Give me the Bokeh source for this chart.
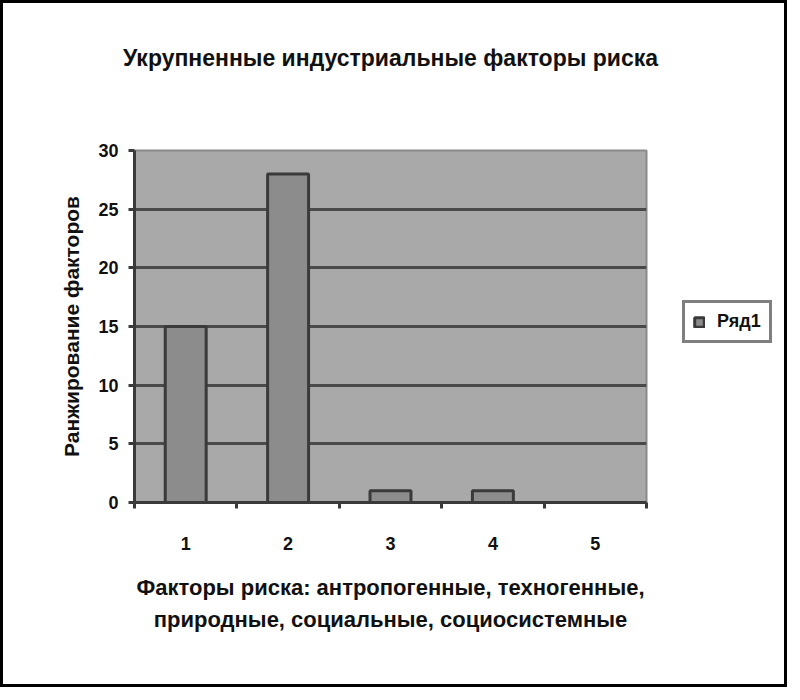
from bokeh.plotting import figure
from bokeh.layouts import row
from bokeh.models import (FixedTicker, Legend, LegendItem, Title, LinearAxis,
                          ColumnDataSource, Range1d)
from bokeh.embed import file_html
from bokeh.resources import INLINE

# ---- data ----
title_text = "Укрупненные индустриальные факторы риска"
y_label = "Ранжирование факторов"
x_label_line1 = "Факторы риска: антропогенные, техногенные,"
x_label_line2 = "природные, социальные, социосистемные"
series_name = "Ряд1"
categories = [1, 2, 3, 4, 5]
tick_labels = ["1", "2", "3", "4", "5"]
values = [15, 28, 1, 1, 0]
y_ticks = [0, 5, 10, 15, 20, 25, 30]

FONT = "Liberation Sans"
INK = "#111111"
BAR_FILL = "#8c8c8c"
BAR_LINE = "#3a3a3a"

src = ColumnDataSource(data=dict(x=categories, top=values))

p = figure(frame_width=512, frame_height=352,
           output_backend="svg", toolbar_location=None,
           x_range=Range1d(0.5, 5.5), y_range=Range1d(0, 30),
           min_border_left=131, min_border_right=13,
           min_border_top=147, min_border_bottom=182,
           background_fill_color="#a9a9a9", border_fill_color="white")
p.outline_line_color = "#8a8a8a"
p.outline_line_width = 2

xa = p.xaxis[0]
ya = p.yaxis[0]

r = p.vbar(x="x", top="top", width=0.4, source=src,
           fill_color=BAR_FILL, line_color=BAR_LINE, line_width=3)

# x axis
xa.ticker = FixedTicker(ticks=categories, minor_ticks=[0.5, 1.5, 2.5, 3.5, 4.5, 5.5])
xa.major_label_overrides = {c: t for c, t in zip(categories, tick_labels)}
xa.major_tick_out = 0
xa.major_tick_in = 0
xa.minor_tick_out = 6
xa.minor_tick_in = 0
xa.minor_tick_line_color = BAR_LINE
xa.minor_tick_line_width = 3
xa.axis_line_color = BAR_LINE
xa.axis_line_width = 3
xa.major_label_standoff = 28
xa.major_label_text_font = FONT
xa.major_label_text_font_style = "bold"
xa.major_label_text_font_size = "18px"
xa.major_label_text_color = INK
xa.axis_label = x_label_line1
xa.axis_label_standoff = 22
xa.axis_label_text_font = FONT
xa.axis_label_text_font_style = "bold"
xa.axis_label_text_font_size = "22px"
xa.axis_label_text_color = INK

# y axis
ya.ticker = FixedTicker(ticks=y_ticks)
ya.major_tick_out = 6
ya.major_tick_in = 0
ya.minor_tick_out = 0
ya.minor_tick_in = 0
ya.major_tick_line_color = BAR_LINE
ya.major_tick_line_width = 3
ya.axis_line_color = BAR_LINE
ya.axis_line_width = 3
ya.major_label_standoff = 10
ya.major_label_text_font = FONT
ya.major_label_text_font_style = "bold"
ya.major_label_text_font_size = "18px"
ya.major_label_text_color = INK
ya.axis_label = y_label
ya.axis_label_standoff = 12
ya.axis_label_text_font = FONT
ya.axis_label_text_font_style = "bold"
ya.axis_label_text_font_size = "21px"
ya.axis_label_text_color = INK

# title drawn as the label of an empty axis above the frame
ta = LinearAxis(ticker=FixedTicker(ticks=[]), axis_line_color=None,
                major_tick_line_color=None, minor_tick_line_color=None,
                major_tick_out=0, major_tick_in=0, minor_tick_out=0, minor_tick_in=0,
                major_label_standoff=0, major_label_text_font_size="0px",
                axis_label=title_text, axis_label_standoff=80,
                axis_label_text_font=FONT, axis_label_text_font_style="bold",
                axis_label_text_font_size="23px", axis_label_text_color=INK)
p.add_layout(ta, "above")

p.xgrid.visible = False
p.ygrid.ticker = FixedTicker(ticks=y_ticks)
p.ygrid.grid_line_color = "#4a4a4a"
p.ygrid.grid_line_width = 3

# second line of the x caption
t2 = Title(text=x_label_line2, align="center", text_font=FONT,
           text_font_style="bold", text_font_size="22px",
           text_color=INK, standoff=4)
p.add_layout(t2, "below")

# legend panel to the right (its own small figure; the sample renderer is hidden)
lg = figure(width=125, height=681, output_backend="svg", toolbar_location=None,
            x_range=Range1d(0.5, 5.5), y_range=Range1d(0, 30),
            min_border=0, border_fill_color="white", background_fill_color="white")
lg.axis.visible = False
lg.grid.visible = False
lg.outline_line_color = None
lr = lg.vbar(x="x", top="top", width=0.4, source=src,
             fill_color=BAR_FILL, line_color=BAR_LINE, line_width=3)
lr.visible = False
legend = Legend(items=[LegendItem(label=series_name, renderers=[lr])],
                location=(23, 159),
                border_line_color="black", border_line_width=3,
                padding=8, label_text_font=FONT, label_text_font_style="bold",
                label_text_font_size="18px", label_text_color=INK,
                glyph_width=12, glyph_height=12,
                label_standoff=12, background_fill_color="white",
                inactive_fill_alpha=0)
lg.add_layout(legend)

layout = row(p, lg)
layout.styles = {"border": "3px solid black"}

open("out.html", "w").write(file_html(layout, INLINE))
